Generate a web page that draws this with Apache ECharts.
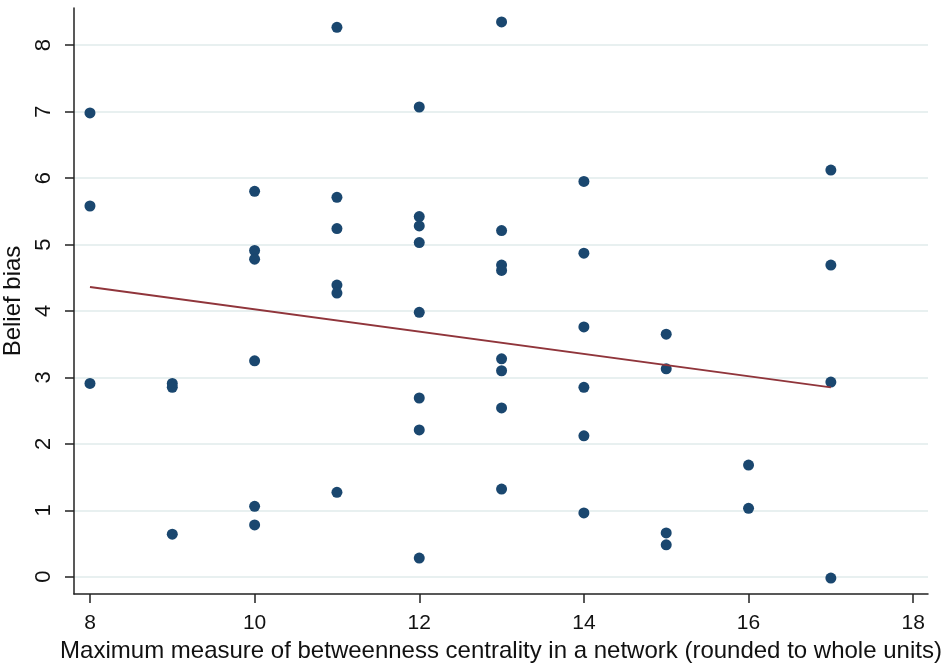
<!DOCTYPE html>
<html>
<head>
<meta charset="utf-8">
<script src="https://cdn.jsdelivr.net/npm/echarts@6/dist/echarts.min.js"></script>
<style>
  html, body { margin: 0; padding: 0; background: #fff; }
  #chart { width: 945px; height: 663px; }
</style>
</head>
<body>
<div id="chart"></div>
<script>
// betweenness (rounded) and belief bias, one entry per network
var xVals = [
  8, 8, 8,
  9, 9, 9,
  10, 10, 10, 10, 10, 10,
  11, 11, 11, 11, 11, 11,
  12, 12, 12, 12, 12, 12, 12, 12,
  13, 13, 13, 13, 13, 13, 13, 13,
  14, 14, 14, 14, 14, 14,
  15, 15, 15, 15,
  16, 16,
  17, 17, 17, 17
]
var yVals = [
  6.98, 5.58, 2.91,
  2.91, 2.85, 0.64,
  5.80, 4.91, 4.78, 3.25, 1.06, 0.78,
  8.27, 5.71, 5.24, 4.39, 4.27, 1.27,
  7.07, 5.42, 5.28, 5.03, 3.98, 2.69, 2.21, 0.28,
  8.35, 5.21, 4.69, 4.61, 3.28, 3.10, 2.54, 1.32,
  5.95, 4.87, 3.76, 2.85, 2.12, 0.96,
  3.65, 3.13, 0.66, 0.48,
  1.68, 1.03,
  6.12, 4.69, 2.93, -0.02
]
// linear fit endpoints
var fitX = [8, 17]
var fitY = [4.36, 2.85]

var xTicks = [8, 10, 12, 14, 16, 18]
var yTicks = [0, 1, 2, 3, 4, 5, 6, 7, 8]

var points = xVals.map(function (x, i) { return [x, yVals[i]] })
var fitLine = fitX.map(function (x, i) { return [x, fitY[i]] })

var chart = echarts.init(document.getElementById('chart'))
var font = 'Liberation Sans, Arial, sans-serif'

chart.setOption({
  backgroundColor: '#fff',
  animation: false,
  grid: { left: 74, right: 17, top: 8, bottom: 69, outerBoundsMode: 'none', containLabel: false },
  xAxis: {
    type: 'value',
    min: 7.806,
    max: 18.18,
    name: 'Maximum measure of betweenness centrality in a network (rounded to whole units)',
    nameLocation: 'middle',
    nameGap: 40,
    nameTextStyle: { color: '#111', fontSize: 24, fontFamily: font },
    axisLine: { show: true, onZero: false, lineStyle: { color: '#222', width: 1.5 } },
    axisTick: { show: true, length: 9, customValues: xTicks, lineStyle: { color: '#222', width: 1.5 } },
    axisLabel: { customValues: xTicks, margin: 19, color: '#111', fontSize: 21, fontFamily: font },
    splitLine: { show: false }
  },
  yAxis: {
    type: 'value',
    min: -0.26,
    max: 8.56,
    name: 'Belief bias',
    nameLocation: 'middle',
    nameGap: 42,
    nameTextStyle: { color: '#111', fontSize: 24, fontFamily: font },
    axisLine: { show: true, onZero: false, lineStyle: { color: '#222', width: 1.5 } },
    axisTick: { show: true, length: 9, customValues: yTicks, lineStyle: { color: '#222', width: 1.5 } },
    axisLabel: { customValues: yTicks, rotate: 90, margin: 19, color: '#111', fontSize: 22, fontFamily: font },
    splitLine: { show: true, lineStyle: { color: '#e8f0f0', width: 2 } }
  },
  series: [
    {
      type: 'scatter',
      data: points,
      symbol: 'circle',
      symbolSize: 11,
      itemStyle: { color: '#1a476f', opacity: 1 }
    },
    {
      type: 'line',
      data: fitLine,
      showSymbol: false,
      lineStyle: { color: '#90353b', width: 2 }
    }
  ]
})
</script>
</body>
</html>
